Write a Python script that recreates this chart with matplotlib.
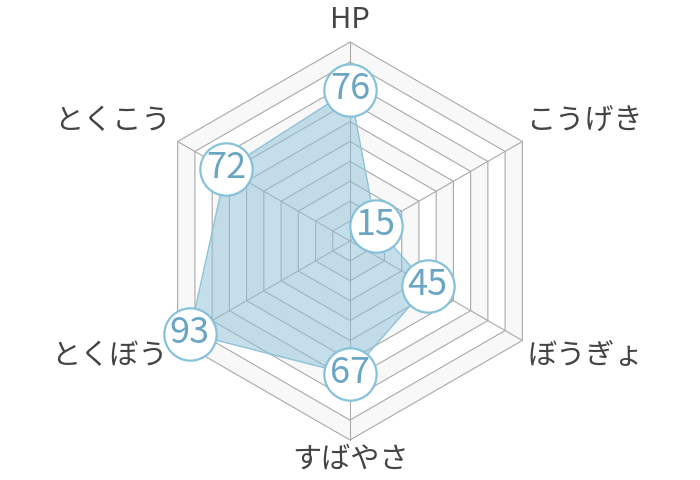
import numpy as np
import matplotlib.pyplot as plt

plt.rcParams['font.family'] = ['Noto Sans CJK JP', 'DejaVu Sans']

# stats, clockwise from the top
labels = ['HP', 'こうげき', 'ぼうぎょ', 'すばやさ', 'とくぼう', 'とくこう']
values = [76, 15, 45, 67, 93, 72]
levels = [10, 20, 30, 40, 50, 60, 70, 80, 90, 100]

# where each axis label sits relative to its vertex (pixels) + alignment
label_pos = [
    ((0, 7), 'center', 'bottom'),
    ((5, 20), 'left', 'center'),
    ((5, -16), 'left', 'center'),
    ((0, -5), 'center', 'top'),
    ((-10, -16), 'right', 'center'),
    ((-7, 20), 'right', 'center'),
]

fig = plt.figure(figsize=(7, 4.8), dpi=100)
ax = fig.add_axes([0, 0, 1, 1])
ax.set_xlim(-175.9, 175.9)
ax.set_ylim(-120.1, 121.1)
ax.set_aspect('equal')
ax.axis('off')

theta = np.deg2rad(90 - 60 * np.arange(len(labels)))
ux, uy = np.cos(theta), np.sin(theta)

# background rings, outside in
for i, lv in enumerate(levels[::-1]):
    col = '#f8f8f8' if i % 2 == 0 else 'white'
    ax.fill(ux * lv, uy * lv, facecolor=col, edgecolor='#a9a9a9', lw=0.8, zorder=1)

for x, y in zip(ux, uy):
    ax.plot([0, x * 100], [0, y * 100], color='#a9a9a9', lw=0.8, zorder=1)

v = np.array(values)
ax.fill(ux * v, uy * v, facecolor='#8fc1d8', alpha=0.52, zorder=2)
ax.fill(ux * v, uy * v, facecolor='none', edgecolor='#8ec3da', lw=1.0, zorder=3)

# value bubbles
ax.scatter(ux * v, uy * v, s=1420, facecolor='white', edgecolor='#86c2db',
           linewidth=1.6, zorder=4)
for x, y, val in zip(ux * v, uy * v, values):
    ax.annotate(str(val), (x, y), xytext=(0, 1), textcoords='offset pixels',
                ha='center', va='center', fontsize=26,
                color='#6aa6c4', zorder=5)

for x, y, lab, (off, ha, va) in zip(ux * 100, uy * 100, labels, label_pos):
    ax.annotate(lab, (x, y), xytext=off, textcoords='offset pixels',
                ha=ha, va=va, fontsize=21, color='#444444')

fig.savefig('out.png', dpi=100)
